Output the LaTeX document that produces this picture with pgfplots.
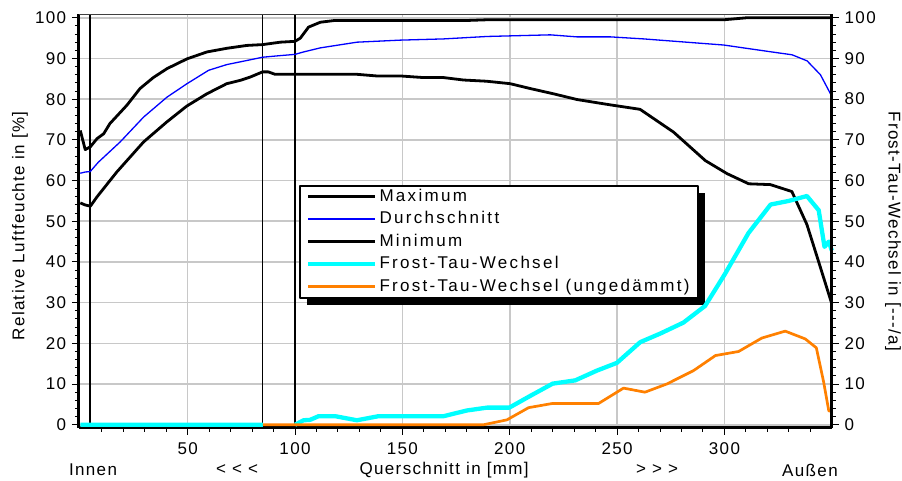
\documentclass[border=0pt]{standalone}
\usepackage{pgfplots}
\pgfplotsset{compat=1.18}
\usepackage{fontspec}
\setmainfont{Liberation Sans}[LetterSpace=8]
\newfontfamily\legfont{Liberation Sans}[LetterSpace=13.5]
\newcommand{\fs}{\fontsize{17}{20}\selectfont}
\definecolor{gridgray}{RGB}{200,200,200}
\definecolor{durch}{RGB}{0,0,255}
\definecolor{ftw}{RGB}{0,255,255}
\definecolor{ftwu}{RGB}{255,128,0}

\pgfplotsset{
  frame/.style={
    scale only axis, width=752.8pt, height=413.5pt,
    xmin=-0.6, xmax=350, ymin=-0.8, ymax=100.8,
    ytick={0,10,...,100}, minor ytick={0,2,...,100},
    tick align=outside, major tick length=7pt, minor tick length=4pt,
    tick style={black, line width=1pt},
    /pgf/number format/assume math mode=true,
    tick label style={font=\fs},
  },
}

\begin{document}
\fs
\begin{tikzpicture}
\begin{axis}[
  frame,
  axis x line*=bottom, axis y line*=left,
  axis line style={line width=3pt},
  xtick={50,100,...,300}, minor xtick={10,20,...,340},
  xticklabel style={yshift=-2pt},
  grid=major, major grid style={gridgray, line width=1.6pt},
  clip=false,
  line join=round,
  legend style={at={(0.2936,0.585)}, anchor=north west, draw=none, fill=none,
    font=\fs\legfont, inner xsep=6pt, inner ysep=0pt, row sep=1.5pt,
    nodes={inner sep=2pt, text height=13pt, text depth=4pt}},
  legend cell align=left,
  legend image code/.code={\draw[#1] (0pt,0pt) -- (67pt,0pt);},
]
% Legendenrahmen mit Schatten
\fill[black] (rel axis cs:0.3029,0.5683) rectangle (rel axis cs:0.8316,0.2975);
\draw[black, line width=1.2pt, fill=white] (rel axis cs:0.2936,0.5852) rectangle (rel axis cs:0.8223,0.3144);

% Trennlinien der Schichten
\addplot[black, line width=1.3pt, forget plot] coordinates {(4.5,-0.8) (4.5,100.8)};
\addplot[black, line width=1.3pt, forget plot] coordinates {(85,-0.8) (85,100.8)};
\addplot[black, line width=1.3pt, forget plot] coordinates {(100,-0.8) (100,100.8)};

% Maximum
\addplot[black, line width=2.8pt] coordinates {
 (0,72.3) (2.3,67.6) (4.7,68.3) (7.8,70.3) (10.9,71.5) (13.8,74) (21.7,78.5)
 (27.8,82.6) (34,85.3) (40.4,87.5) (49.7,89.9) (59,91.6) (68.3,92.5) (77.6,93.2)
 (84.9,93.4) (93.2,94) (100,94.2) (102.5,95) (106.3,97.7) (111.8,98.9) (118,99.3)
 (178.5,99.3) (189.4,99.5) (299.6,99.5) (310.5,100) (350,100)};
\addlegendentry{Maximum}

% Durchschnitt
\addplot[durch, line width=1.3pt,
  legend image code/.code={\draw[durch, line width=1.7pt] (0pt,0pt) -- (67pt,0pt);}] coordinates {
 (0,61.8) (2.3,62.1) (4.6,62.2) (8.4,64.5) (18.6,69.5) (29.5,75.6) (40.4,80.5)
 (49.7,83.8) (59.8,87.1) (68.3,88.5) (77.6,89.5) (84.9,90.3) (93.2,90.7) (100,91)
 (104,91.6) (111.8,92.6) (128.9,94) (149,94.5) (169.2,94.8) (189.4,95.4) (218.9,95.8)
 (231.3,95.3) (246.9,95.3) (262.4,94.8) (299.6,93.3) (322,91.6) (331.5,90.9)
 (338.5,89.4) (344.7,86) (350,80.7)};
\addlegendentry{Durchschnitt}

% Minimum
\addplot[black, line width=2.8pt] coordinates {
 (0,54.5) (2.3,54) (4.7,53.7) (7.8,56) (17,62.1) (29.5,69.5) (40.3,74.4) (49.6,78.3)
 (58.9,81.3) (68.2,83.8) (74.4,84.6) (79,85.4) (84.9,86.7) (87.6,86.7) (90.7,86.1)
 (128.9,86.1) (138,85.7) (149,85.7) (159.9,85.3) (169.2,85.3) (178.5,84.7) (189.3,84.4)
 (200.2,83.8) (209.6,82.6) (220.5,81.3) (231.4,79.9) (246.8,78.6) (260.7,77.5)
 (276.3,71.9) (291.1,64.9) (301.2,61.7) (311.3,59.2) (321.4,59) (331.4,57.3)
 (338.4,49.2) (343.9,40) (350,29.7)};
\addlegendentry{Minimum}

% Frost-Tau-Wechsel
\addplot[ftw, line width=4.3pt, unbounded coords=jump] coordinates {
 (0,0) (85,0) (92,nan) (100,0) (104,1.1) (107,1.2) (111,2.1) (118.7,2.1) (128.8,1.1)
 (138.9,2.1) (169.2,2.1) (180,3.5) (189.4,4.2) (199.8,4.2) (209.6,7.1) (220,10.1)
 (230.5,10.9) (240.6,13.3) (249.9,15.2) (260.8,20.3) (270.1,22.4) (280.9,25.1)
 (291,29.2) (300.3,37.1) (311.2,47.1) (321.5,54.1) (330,55) (338.4,56.2) (343.9,52.7)
 (346.6,43.7) (348.6,45) (350,42.8)};
\addlegendentry{Frost-Tau-Wechsel}

% Frost-Tau-Wechsel ungedaemmt
\addplot[ftwu, line width=2.7pt] coordinates {
 (85,0) (187.8,0) (198.7,1.2) (208.8,4.2) (219.6,5.2) (241.3,5.2) (253,9) (263,8)
 (273.1,10) (285.6,13.3) (295.8,17) (306.6,18) (317.4,21.3) (328.3,23) (337.6,21.1)
 (342.8,18.9) (346.2,10.5) (348.6,3.4) (350,3.4)};
\addlegendentry{Frost-Tau-Wechsel (ungedämmt)}

\node[font=\fs] at (rel axis cs:0.0186,-0.1016) {Innen};
\node[font=\fs] at (rel axis cs:0.2099,-0.1016) {< < <};
\node[font=\fs] at (rel axis cs:0.485,-0.1016) {Querschnitt in [mm]};
\node[font=\fs] at (rel axis cs:0.7678,-0.1016) {> > >};
\node[font=\fs] at (rel axis cs:0.971,-0.1016) {Außen};
\node[rotate=90, font=\fs] at (rel axis cs:-0.0784,0.4885) {Relative Luftfeuchte in [\%]};
\node[rotate=-90, font=\fs] at (rel axis cs:1.0813,0.476) {Frost-Tau-Wechsel in [-{}-{}-/a]};
\end{axis}

\begin{axis}[
  frame,
  axis x line*=top, axis y line*=right,
  x axis line style={line width=1.5pt, black!75},
  y axis line style={line width=3pt},
  xtick=\empty,
]
\end{axis}
\pgfresetboundingbox
\path[use as bounding box] (-79pt,-53pt) rectangle (823pt,428pt);
\end{tikzpicture}
\end{document}
